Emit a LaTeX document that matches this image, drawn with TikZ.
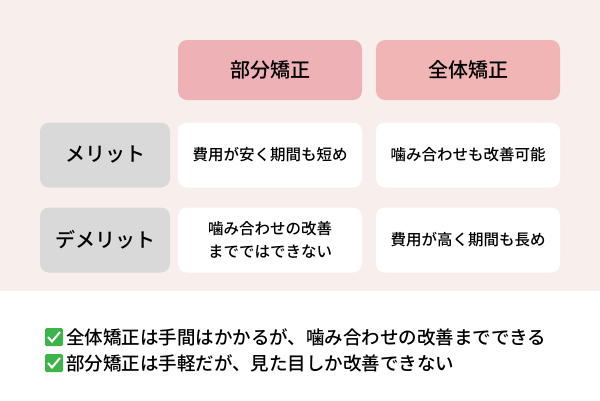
\documentclass[tikz,border=0pt]{standalone}
\usepackage{fontspec}
\setmainfont{Noto Sans CJK JP Medium}
\definecolor{bgp}{HTML}{F8EFED}
\definecolor{hdA}{HTML}{EDB1B6}
\definecolor{hdB}{HTML}{F0B5B4}
\definecolor{gr}{HTML}{D9D9D9}
\definecolor{ck}{HTML}{3CB44A}
\begin{document}
\begin{tikzpicture}[x=1pt,y=-1pt,
 cell/.style={rounded corners=9pt,minimum width=184pt,minimum height=65pt,align=center,font=\fontsize{15.5}{23}\selectfont,inner sep=0pt},
 hdr/.style={cell,minimum height=60pt,font=\fontsize{20}{24}\selectfont},
 lab/.style={cell,fill=gr,minimum width=130pt,font=\fontsize{20}{24}\selectfont},
 txt/.style={anchor=west,font=\fontsize{18.5}{22}\selectfont,inner sep=0pt},
 chk/.style={fill=ck,rounded corners=1.5pt,minimum size=18pt,inner sep=0pt}]
\useasboundingbox (0,0) rectangle (600,400);
\fill[bgp] (0,0) rectangle (600,291);
\node[hdr,fill=hdA] (h1) at (270,70) {部分矯正};
\node[hdr,fill=hdB] (h2) at (468,70) {全体矯正};
\node[lab] (l1) at (105,155) {メリット};
\node[lab] (l2) at (105,240) {デメリット};
\node[cell,fill=white] (c11) at (270,155) {費用が安く期間も短め};
\node[cell,fill=white] (c12) at (468,155) {噛み合わせも改善可能};
\node[cell,fill=white] (c21) at (270,240) {噛み合わせの改善\\までではできない};
\node[cell,fill=white] (c22) at (468,240) {費用が高く期間も長め};
\node[chk] (k1) at (54,337) {};
\node[chk] (k2) at (54,363) {};
\draw[white,line width=2pt] (48,337) -- (52,341.5) -- (60,332);
\draw[white,line width=2pt] (48,363) -- (52,367.5) -- (60,358);
\node[txt] (t1) at (66,337) {全体矯正は手間はかかるが、噛み合わせの改善までできる};
\node[txt] (t2) at (66,363) {部分矯正は手軽だが、見た目しか改善できない};
\end{tikzpicture}
\end{document}
